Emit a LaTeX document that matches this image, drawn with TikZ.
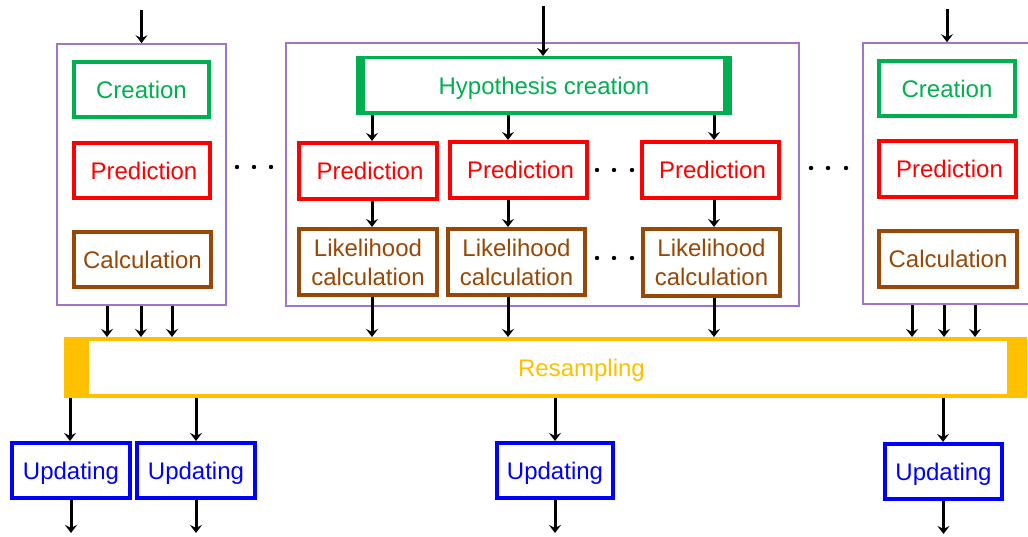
\documentclass[tikz,border=0pt]{standalone}
\usepackage{fontspec}
\setmainfont{Liberation Sans}
\usetikzlibrary{arrows.meta,calc}
\definecolor{cgreen}{HTML}{00B050}
\definecolor{cred}{HTML}{FF0000}
\definecolor{cbrown}{HTML}{974706}
\definecolor{cblue}{HTML}{0000FF}
\definecolor{cgold}{HTML}{FFC000}
\definecolor{cpurple}{RGB}{162,116,200}
\tikzset{
  box/.style={draw, line width=4pt, inner sep=0pt, align=center,
    font=\fontsize{24}{29}\selectfont},
  caps/.style={text height=17.2pt, text depth=0pt},
  gbox/.style={box, caps, draw=cgreen, text=cgreen},
  rbox/.style={box, caps, draw=cred, text=cred},
  bbox/.style={box, draw=cbrown, text=cbrown},
  ubox/.style={box, caps, draw=cblue, text=cblue},
  frame/.style={draw=cpurple, line width=1.6pt, inner sep=0pt},
  arr/.style={line width=3pt, -{Stealth[length=8pt,width=12pt,inset=3pt]}},
  dot/.style={fill=black},
}
\begin{document}
\begin{tikzpicture}[x=1pt,y=-1pt]
\useasboundingbox (0,0) rectangle (1028,537);
% purple frames
\node[frame, minimum width=169pt, minimum height=261pt] (lbox) at (141.5,174.5) {};
\node[frame, minimum width=513pt, minimum height=263pt] (mbox) at (542.5,174.5) {};
\node[frame, minimum width=167pt, minimum height=261pt] (rbox) at (946.5,173.5) {};
% left column
\node[gbox, minimum width=135pt, minimum height=55pt] (lc) at (141.5,89.5) {Creation};
\node[rbox, minimum width=136pt, minimum height=55pt] (lp) at (142,170.5) {\hspace*{4pt}Prediction};
\node[bbox, caps, minimum width=137pt, minimum height=55pt] (ll) at (142.5,259.5) {Calculation};
% middle
\node[gbox, line width=3.5pt, minimum width=372pt, minimum height=55.5pt] (hyp) at (544,85.5) {Hypothesis creation};
\fill[cgreen] (hyp.north west) rectangle ($(hyp.south west)+(9,0)$);
\fill[cgreen] (hyp.north east) rectangle ($(hyp.south east)+(-9,0)$);
\node[rbox, minimum width=138pt, minimum height=56pt] (p1) at (368,171) {\hspace*{4pt}Prediction};
\node[rbox, minimum width=137pt, minimum height=56pt] (p2) at (518.5,170) {\hspace*{4pt}Prediction};
\node[rbox, minimum width=137pt, minimum height=56pt] (p3) at (710.5,170) {\hspace*{4pt}Prediction};
\node[bbox, minimum width=138pt, minimum height=66pt] (l1) at (368,262) {Likelihood\\calculation};
\node[bbox, minimum width=137pt, minimum height=66pt] (l2) at (516.5,262) {Likelihood\\calculation};
\node[bbox, minimum width=137pt, minimum height=67pt] (l3) at (711.5,262.5) {Likelihood\\calculation};
% right column
\node[gbox, minimum width=136pt, minimum height=55pt] (rc) at (947,88.5) {Creation};
\node[rbox, minimum width=137pt, minimum height=56pt] (rp) at (947.5,169) {\hspace*{4pt}Prediction};
\node[bbox, caps, minimum width=138pt, minimum height=56pt] (rl) at (948,259) {Calculation};
% resampling
\node[box, caps, draw=cgold, text=cgold, minimum width=959pt, minimum height=57pt] (res) at (545.5,367.5) {\hspace*{72pt}Resampling};
\fill[cgold] (res.north west) rectangle ($(res.south west)+(25,0)$);
\fill[cgold] (res.north east) rectangle ($(res.south east)+(-20,0)$);
% updating
\node[ubox, minimum width=118pt, minimum height=55pt] (u1) at (71,470.5) {Updating};
\node[ubox, minimum width=118pt, minimum height=55pt] (u2) at (196,470.5) {Updating};
\node[ubox, minimum width=116pt, minimum height=55pt] (u3) at (555,470.5) {Updating};
\node[ubox, minimum width=117pt, minimum height=55pt] (u4) at (943.5,471.5) {Updating};
% dots
\foreach \x/\y in {237/167,254/167,271/167, 597/170,614/170,632/170, 597/258,614/258,632/258, 811/168,828/168,846/168}
  \fill[dot] (\x,\y) circle (2.2pt);
% input arrows
\coordinate (inL) at (141.5,10);
\coordinate (inM) at (543,6);
\coordinate (inR) at (947,9);
\draw[arr] (inL) -- (inL |- lbox.north);
\draw[arr] (inM) -- (inM |- hyp.north);
\draw[arr] (inR) -- (inR |- rbox.north);
% middle chain
\foreach \x/\p/\l in {372/p1/l1, 508/p2/l2, 714/p3/l3} {
  \draw[arr] (hyp.south -| \x,0) -- (\p.north -| \x,0);
  \draw[arr] (\p.south -| \x,0) -- (\l.north -| \x,0);
  \draw[arr] (\l.south -| \x,0) -- (res.north -| \x,0);
}
% side boxes to resampling
\foreach \x in {107,141,172}
  \draw[arr] (lbox.south -| \x,0) -- (res.north -| \x,0);
\foreach \x in {912,944,975}
  \draw[arr] (rbox.south -| \x,0) -- (res.north -| \x,0);
% resampling to updating
\foreach \x/\u in {70/u1,196/u2,555/u3,943/u4}
  \draw[arr] (res.south -| \x,0) -- (\u.north -| \x,0);
\foreach \u in {u1,u2,u3,u4}
  \draw[arr] (\u.south) -- ++(0,33);
\end{tikzpicture}
\end{document}
